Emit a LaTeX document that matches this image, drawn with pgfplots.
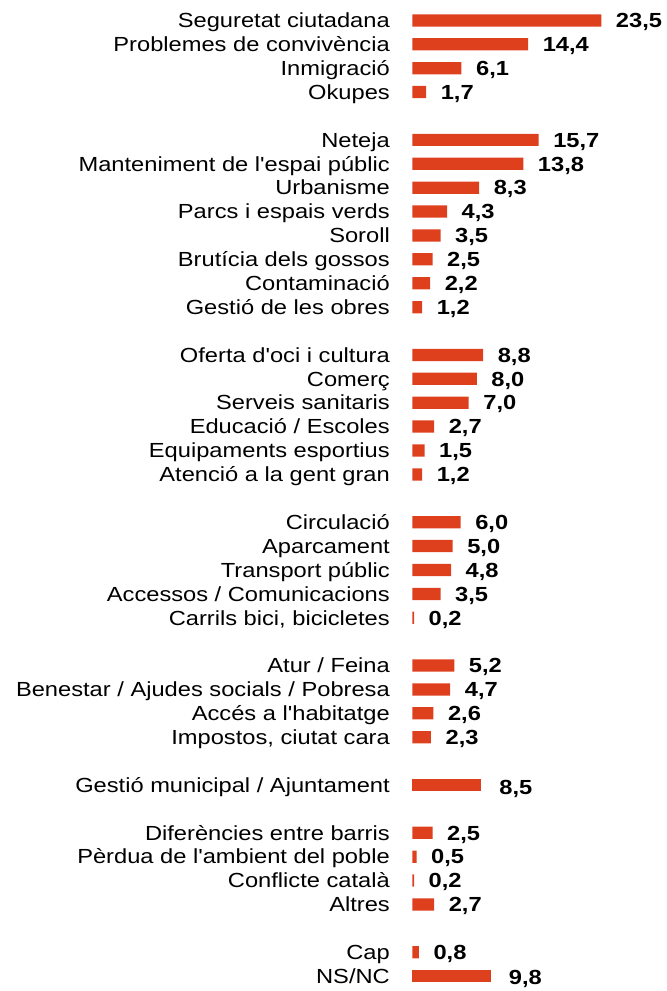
\documentclass[border=0pt]{standalone}
\usepackage{pgfplots}
\pgfplotsset{compat=1.18}
\usepackage{fontspec}
\setmainfont{Liberation Sans}[FakeStretch=1.16,Ligatures=TeXOff]
\definecolor{barc}{RGB}{222,64,30}
\begin{document}
\begin{tikzpicture}
\begin{axis}[
 scale only axis, width=242.1pt, height=984pt,
 xmin=0, xmax=30, ymin=-0.5, ymax=40.5, y dir=reverse,
 xbar, bar width=12.3pt, bar shift=0pt,
 axis line style={draw=none}, major tick length=0pt, xtick=\empty,
 ytick={0,1,2,3,5,6,7,8,9,10,11,12,14,15,16,17,18,19,21,22,23,24,25,27,28,29,30,32,34,35,36,37,39,40},
 yticklabels={Seguretat ciutadana,Problemes de convivència,Inmigració,Okupes,
 Neteja,Manteniment de l'espai públic,Urbanisme,Parcs i espais verds,Soroll,Brutícia dels gossos,Contaminació,Gestió de les obres,
 Oferta d'oci i cultura,Comerç,Serveis sanitaris,Educació / Escoles,Equipaments esportius,Atenció a la gent gran,
 Circulació,Aparcament,Transport públic,Accessos / Comunicacions,{Carrils bici, bicicletes},
 Atur / Feina,Benestar / Ajudes socials / Pobresa,Accés a l'habitatge,{Impostos, ciutat cara},
 Gestió municipal / Ajuntament,
 Diferències entre barris,Pèrdua de l'ambient del poble,Conflicte català,Altres,
 Cap,NS/NC},
 yticklabel style={font=\fontsize{20.5}{24}\selectfont, inner sep=0pt, anchor=base east, xshift=-22.6pt, yshift=-7.3pt},
 nodes near coords,
 nodes near coords style={font=\fontsize{20.5}{24}\selectfont\bfseries, inner sep=0pt, anchor=base west, xshift=14.5pt, yshift=-7.3pt},
 /pgf/number format/use comma, /pgf/number format/fixed, /pgf/number format/fixed zerofill, /pgf/number format/precision=1, /pgf/number format/assume math mode=true,
 clip=false,
]
\addplot[fill=barc, draw=none] coordinates {
(23.5,0) (14.4,1) (6.1,2) (1.7,3)
(15.7,5) (13.8,6) (8.3,7) (4.3,8) (3.5,9) (2.5,10) (2.2,11) (1.2,12)
(8.8,14) (8.0,15) (7.0,16) (2.7,17) (1.5,18) (1.2,19)
(6.0,21) (5.0,22) (4.8,23) (3.5,24) (0.2,25)
(5.2,27) (4.7,28) (2.6,29) (2.3,30)
(2.5,34) (0.5,35) (0.2,36) (2.7,37)
(0.8,39)
};
\addplot[fill=barc, draw=none, nodes near coords style={xshift=4pt, yshift=-2pt}] coordinates {(8.5,32)};
\addplot[fill=barc, draw=none, nodes near coords style={xshift=3pt, yshift=-1.5pt}] coordinates {(9.8,40)};
\coordinate (bl) at (axis cs:-51.34,40.62);
\coordinate (tr) at (axis cs:31.56,-0.854);
\end{axis}
\pgfresetboundingbox
\path[use as bounding box] (bl) rectangle (tr);
\end{tikzpicture}
\end{document}
